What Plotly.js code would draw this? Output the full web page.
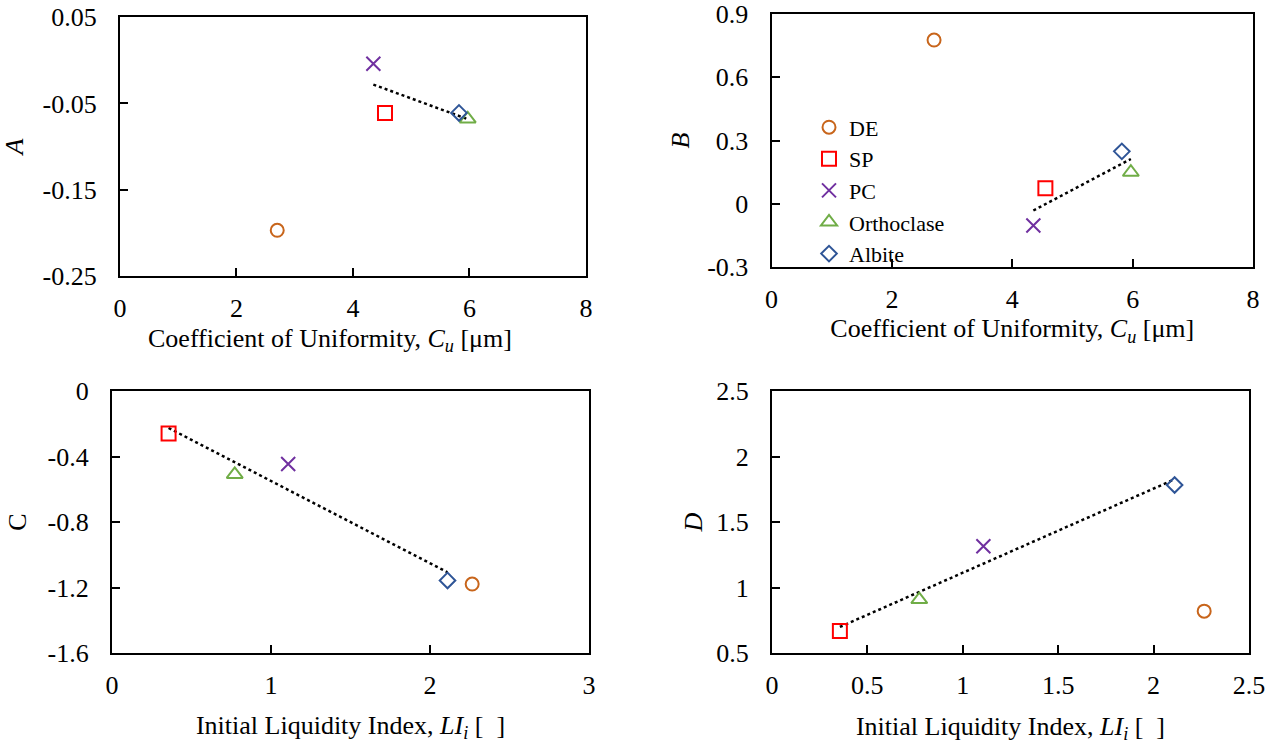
<!DOCTYPE html>
<html>
<head>
<meta charset="utf-8">
<script src="https://cdn.plot.ly/plotly-3.0.1.min.js"></script>
<style>html,body{margin:0;padding:0;background:#fff;}#chart{width:1287px;height:744px;}</style>
</head>
<body>
<div id="chart"></div>
<script>
// ---- data ----
const materials = ["DE", "SP", "PC", "Orthoclase", "Albite"];
const Cu  = [2.70, 4.55, 4.35, 5.97, 5.82];      // Coefficient of Uniformity
const LIi = [2.265, 0.356, 1.108, 0.772, 2.11];  // Initial Liquidity Index
const A = [-0.197, -0.061, -0.004, -0.068, -0.061];
const B = [0.777, 0.074, -0.103, 0.150, 0.249];
const C = [-1.178, -0.259, -0.446, -0.509, -1.156];
const D = [0.821, 0.669, 1.316, 0.909, 1.783];
// materials included in the dotted linear trendline (DE excluded)
const inFit = [false, true, true, true, true];

// tick values
const xTicksCu = [0, 2, 4, 6, 8];
const xTicksLI3 = [0, 1, 2, 3];
const xTicksLI4 = [0, 0.5, 1, 1.5, 2, 2.5];
const yTicksA = [-0.25, -0.15, -0.05, 0.05];
const yTicksB = [-0.3, 0, 0.3, 0.6, 0.9];
const yTicksC = [-1.6, -1.2, -0.8, -0.4, 0];
const yTicksD = [0.5, 1, 1.5, 2, 2.5];

// ---- styles ----
const colors = ["#C8651B", "#FF0000", "#7030A0", "#70AD47", "#2F5597"];
const symbols = ["circle-open", "square-open", "x-thin-open", "triangle-up-open", "diamond-open"];
const sizes = [13, 14, 14, 14, 12];
const FONT = "Liberation Serif";

function fitLine(xs, ys) {
  const px = [], py = [];
  xs.forEach((v, i) => { if (inFit[i]) { px.push(v); py.push(ys[i]); } });
  const n = px.length;
  const mx = px.reduce((a, b) => a + b, 0) / n;
  const my = py.reduce((a, b) => a + b, 0) / n;
  let sxy = 0, sxx = 0;
  for (let i = 0; i < n; i++) { sxy += (px[i] - mx) * (py[i] - my); sxx += (px[i] - mx) ** 2; }
  const m = sxy / sxx, b = my - m * mx;
  const x0 = Math.min(...px), x1 = Math.max(...px);
  return { x: [x0, x1], y: [m * x0 + b, m * x1 + b] };
}

const panels = [
  { xs: Cu, ys: A, xa: "x", ya: "y", legend: false },
  { xs: Cu, ys: B, xa: "x2", ya: "y2", legend: true },
  { xs: LIi, ys: C, xa: "x3", ya: "y3", legend: false },
  { xs: LIi, ys: D, xa: "x4", ya: "y4", legend: false }
];

const traces = [];
panels.forEach(p => {
  const f = fitLine(p.xs, p.ys);
  traces.push({
    type: "scatter", mode: "lines", x: f.x, y: f.y, xaxis: p.xa, yaxis: p.ya,
    line: { color: "#000", width: 2.5, dash: "dot" }, showlegend: false, hoverinfo: "skip"
  });
});
panels.forEach(p => {
  materials.forEach((name, i) => {
    traces.push({
      type: "scatter", mode: "markers", name: name,
      x: [p.xs[i]], y: [p.ys[i]], xaxis: p.xa, yaxis: p.ya,
      showlegend: p.legend,
      marker: { symbol: symbols[i], size: sizes[i], color: colors[i], line: { color: colors[i], width: 2 } }
    });
  });
});

function xAxis(dom, range, ticks, title, anchor, standoff) {
  const ax = {
    domain: dom, range: range, anchor: anchor,
    tickmode: "array", tickvals: ticks, ticktext: ticks.map(v => String(v)),
    ticks: "inside", ticklen: 8, tickwidth: 2, tickcolor: "#000",
    showline: true, linewidth: 2, linecolor: "#000", mirror: true,
    showgrid: false, zeroline: false, ticklabelstandoff: 8,
    tickfont: { family: FONT, size: 26, color: "#000" }
  };
  if (title) ax.title = { text: title, font: { family: FONT, size: 26, color: "#000" }, standoff: standoff };
  return ax;
}
function yAxis(dom, range, ticks, title, anchor, standoff) {
  return {
    domain: dom, range: range, anchor: anchor,
    tickmode: "array", tickvals: ticks, ticktext: ticks.map(v => String(v)),
    ticks: "inside", ticklen: 8, tickwidth: 2, tickcolor: "#000",
    showline: true, linewidth: 2, linecolor: "#000", mirror: true,
    showgrid: false, zeroline: false, ticklabelstandoff: 16,
    tickfont: { family: FONT, size: 26, color: "#000" },
    title: { text: title, font: { family: FONT, size: 26, color: "#000" }, standoff: standoff }
  };
}

const cuTitle = "Coefficient of Uniformity, <i>C<sub>u</sub></i> [μm]";
const liTitle = "Initial Liquidity Index, <i>LI<sub>i</sub></i> [  ]";

const layout = {
  width: 1287, height: 744,
  margin: { l: 0, r: 0, t: 0, b: 0 },
  paper_bgcolor: "#fff", plot_bgcolor: "#fff",
  font: { family: FONT, color: "#000" },
  xaxis:  xAxis([0.0932, 0.4553], [0, 8], xTicksCu, null, "y", 2),
  yaxis:  yAxis([0.629, 0.977], [-0.25, 0.05], yTicksA, "<i>A</i>", "x", 20),
  xaxis2: xAxis([0.5995, 0.9736], [0, 8], xTicksCu, cuTitle, "y2", 2),
  yaxis2: yAxis([0.641, 0.981], [-0.3, 0.9], yTicksB, "<i>B</i>", "x2", 10),
  xaxis3: xAxis([0.087, 0.4577], [0, 3], xTicksLI3, liTitle, "y3", 16),
  yaxis3: yAxis([0.122, 0.4745], [-1.6, 0], yTicksC, "C", "x3", 13),
  xaxis4: xAxis([0.5998, 0.9705], [0, 2.5], xTicksLI4, liTitle, "y4", 18),
  yaxis4: yAxis([0.122, 0.4745], [0.5, 2.5], yTicksD, "<i>D</i>", "x4", 6),
  annotations: [{
    text: cuTitle, xref: "paper", yref: "paper", x: 0.2564, y: 0.5672,
    xanchor: "center", yanchor: "top", showarrow: false,
    font: { family: FONT, size: 26, color: "#000" }
  }],
  showlegend: true,
  legend: {
    x: 0.6286, y: 0.857, xanchor: "left", yanchor: "top",
    bgcolor: "rgba(0,0,0,0)", borderwidth: 0,
    font: { family: FONT, size: 22, color: "#000" },
    itemwidth: 30, tracegroupgap: 0
  }
};

Plotly.newPlot("chart", traces, layout, { displayModeBar: false, staticPlot: true });
</script>
</body>
</html>
